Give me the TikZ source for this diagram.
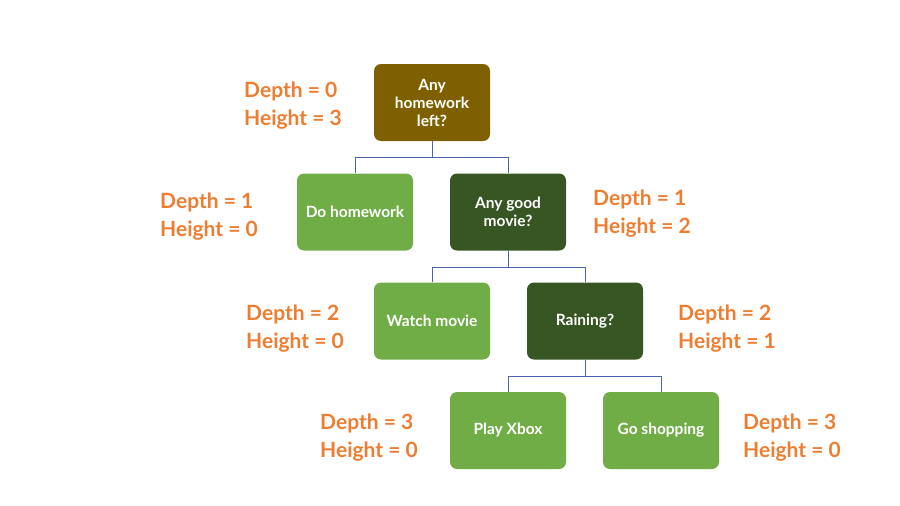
\documentclass[tikz,border=0pt]{standalone}
\usepackage{fontspec}
\setmainfont{Lato}
\definecolor{brownbox}{HTML}{7F6000}
\definecolor{lightg}{HTML}{70AD47}
\definecolor{darkg}{HTML}{375623}
\definecolor{lbl}{HTML}{ED7D31}
\definecolor{conn}{HTML}{4A66A8}
\tikzset{
  box/.style={rounded corners=7pt, minimum width=116pt, minimum height=77pt, text=white, align=center, font=\bfseries\fontsize{15.5}{18}\selectfont, inner sep=2pt},
  rootbox/.style={box, fill=brownbox},
  leafbox/.style={box, fill=lightg},
  qbox/.style={box, fill=darkg},
  lab/.style={anchor=west, align=left, text=lbl, font=\bfseries\fontsize{21}{27.5}\selectfont, inner sep=0pt},
  link/.style={conn, line width=0.8pt}
}
\begin{document}
\begin{tikzpicture}[x=1pt,y=-1pt]
\useasboundingbox (0,0) rectangle (900,506);
\node[rootbox] (root) at (432,102.5) {Any\\homework\\left?};
\node[leafbox] (doh) at (355,212) {Do homework};
\node[qbox] (movie) at (508,212) {Any good\\movie?};
\node[leafbox] (watch) at (432,321) {Watch movie};
\node[qbox] (rain) at (585,321) {Raining?};
\node[leafbox] (xbox) at (508,430.5) {Play Xbox};
\node[leafbox] (shop) at (661,430.5) {Go shopping};
\draw[link] (root.south) -- ++(0,16) -| (doh.north);
\draw[link] (root.south) -- ++(0,16) -| (movie.north);
\draw[link] (movie.south) -- ++(0,16.5) -| (watch.north);
\draw[link] (movie.south) -- ++(0,16.5) -| (rain.north);
\draw[link] (rain.south) -- ++(0,16.5) -| (xbox.north);
\draw[link] (rain.south) -- ++(0,16.5) -| (shop.north);
\node[lab] (l0) at (244,105.5) {Depth = 0\\Height = 3};
\node[lab] (l1) at (160,216.5) {Depth = 1\\Height = 0};
\node[lab] (l2) at (593,213.5) {Depth = 1\\Height = 2};
\node[lab] (l3) at (246,328.5) {Depth = 2\\Height = 0};
\node[lab] (l4) at (678,328.5) {Depth = 2\\Height = 1};
\node[lab] (l5) at (320,437.5) {Depth = 3\\Height = 0};
\node[lab] (l6) at (743,437.5) {Depth = 3\\Height = 0};
\end{tikzpicture}
\end{document}
